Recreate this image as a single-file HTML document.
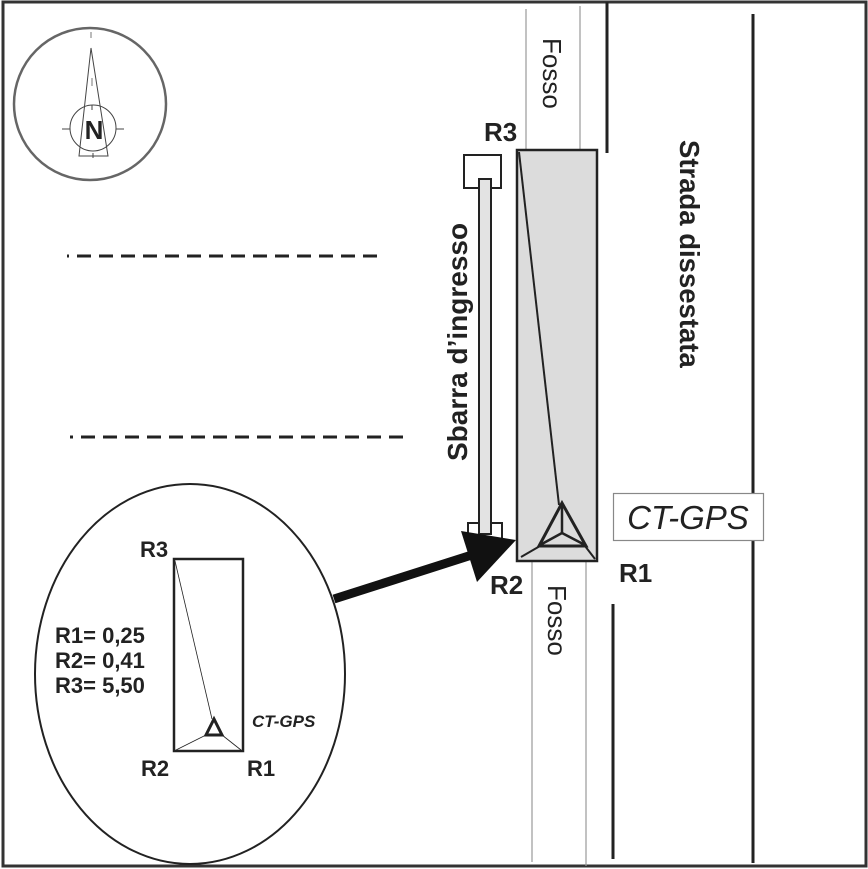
<!DOCTYPE html>
<html><head><meta charset="utf-8"><style>
html,body{margin:0;padding:0;background:#fff;}
svg{display:block;}
text{font-family:"Liberation Sans",Arial,sans-serif;}
</style></head><body>
<svg width="868" height="869" viewBox="0 0 868 869" xmlns="http://www.w3.org/2000/svg">
<rect x="0" y="0" width="868" height="869" fill="#fff"/>
<rect x="3" y="2" width="863" height="864" fill="none" stroke="#333" stroke-width="3"/>
<!-- compass -->
<circle cx="90" cy="104" r="76" fill="none" stroke="#666" stroke-width="2.5"/>
<circle cx="93" cy="128" r="23" fill="none" stroke="#444" stroke-width="1"/>
<polygon points="91,48 79,156 108,156" fill="none" stroke="#444" stroke-width="1"/>
<line x1="91" y1="32" x2="91" y2="38" stroke="#777" stroke-width="1"/>
<line x1="92" y1="78" x2="92" y2="86" stroke="#777" stroke-width="1"/>
<line x1="62" y1="129" x2="70" y2="129" stroke="#444" stroke-width="1"/>
<line x1="116" y1="129" x2="124" y2="129" stroke="#444" stroke-width="1"/>
<line x1="92" y1="105" x2="92" y2="110" stroke="#444" stroke-width="1"/>
<line x1="93" y1="153" x2="93" y2="158" stroke="#444" stroke-width="1"/>
<text x="94" y="139" font-size="26" font-weight="bold" text-anchor="middle" fill="#222">N</text>
<!-- dashed lines -->
<line x1="67" y1="256" x2="69" y2="256" stroke="#222" stroke-width="3"/>
<line x1="77" y1="256" x2="382" y2="256" stroke="#222" stroke-width="3" stroke-dasharray="14 8"/>
<line x1="70" y1="437" x2="73" y2="437" stroke="#222" stroke-width="3"/>
<line x1="81" y1="437" x2="406" y2="437" stroke="#222" stroke-width="3" stroke-dasharray="14 8"/>
<!-- fosso lines -->
<line x1="526" y1="9" x2="526" y2="150" stroke="#999" stroke-width="1.2"/>
<line x1="580" y1="6" x2="580" y2="150" stroke="#999" stroke-width="1.2"/>
<line x1="532" y1="561" x2="532" y2="862" stroke="#999" stroke-width="1.2"/>
<line x1="586" y1="561" x2="586" y2="866" stroke="#999" stroke-width="1.2"/>
<text transform="translate(543,38) rotate(90)" font-size="26" fill="#222">Fosso</text>
<text transform="translate(548,585) rotate(90)" font-size="26" fill="#222">Fosso</text>
<!-- road lines -->
<line x1="607" y1="2" x2="607" y2="153" stroke="#222" stroke-width="3"/>
<line x1="613" y1="604" x2="613" y2="859" stroke="#222" stroke-width="3"/>
<line x1="753" y1="14" x2="753" y2="863" stroke="#222" stroke-width="3"/>
<text transform="translate(680,140) rotate(90)" font-size="27.5" font-weight="bold" fill="#222">Strada dissestata</text>
<!-- bar -->
<rect x="464" y="155" width="37" height="33" fill="#fff" stroke="#222" stroke-width="2"/>
<rect x="468" y="523" width="34" height="18" fill="#fff" stroke="#222" stroke-width="2"/>
<rect x="479" y="179" width="12" height="355" fill="#e3e3e3" stroke="#222" stroke-width="2"/>
<text transform="translate(467,461) rotate(-90)" font-size="28" font-weight="bold" fill="#222">Sbarra d’ingresso</text>
<!-- grey rect -->
<rect x="517" y="150" width="80" height="411" fill="#dcdcdc" stroke="#222" stroke-width="2.5"/>
<line x1="519" y1="152" x2="559" y2="505" stroke="#222" stroke-width="2"/>
<polygon points="562,503 539,546 586,546" fill="none" stroke="#222" stroke-width="3"/>
<line x1="562" y1="503" x2="562" y2="533" stroke="#222" stroke-width="2.5"/>
<line x1="562" y1="533" x2="540" y2="545" stroke="#222" stroke-width="2.5"/>
<line x1="562" y1="533" x2="585" y2="545" stroke="#222" stroke-width="2.5"/>
<line x1="540" y1="546" x2="521" y2="557" stroke="#222" stroke-width="2"/>
<line x1="585" y1="546" x2="595" y2="559" stroke="#222" stroke-width="2"/>
<text x="484" y="141" font-size="26" font-weight="bold" fill="#222">R3</text>
<text x="490" y="594" font-size="26" font-weight="bold" fill="#222">R2</text>
<text x="619" y="582" font-size="26" font-weight="bold" fill="#222">R1</text>
<!-- CT-GPS box -->
<rect x="613.5" y="493.5" width="150" height="47" fill="#fff" stroke="#888" stroke-width="1.2"/>
<text x="688" y="529" font-size="33" font-style="italic" text-anchor="middle" fill="#222">CT-GPS</text>
<!-- arrow -->
<line x1="334" y1="599" x2="478" y2="553" stroke="#111" stroke-width="9"/>
<polygon points="516,540 461,531 477,582" fill="#111"/>
<!-- ellipse -->
<ellipse cx="190" cy="674" rx="155" ry="190" fill="none" stroke="#222" stroke-width="2"/>
<rect x="174" y="559" width="69" height="192" fill="none" stroke="#222" stroke-width="2.5"/>
<line x1="175" y1="561" x2="212" y2="719" stroke="#222" stroke-width="0.8"/>
<polygon points="214,719 206,735 222,735" fill="none" stroke="#222" stroke-width="3"/>
<line x1="206" y1="735" x2="176" y2="750" stroke="#222" stroke-width="0.8"/>
<line x1="222" y1="735" x2="241" y2="750" stroke="#222" stroke-width="0.8"/>
<text x="140" y="557" font-size="22" font-weight="bold" fill="#222">R3</text>
<text x="141" y="776" font-size="22" font-weight="bold" fill="#222">R2</text>
<text x="247" y="776" font-size="22" font-weight="bold" fill="#222">R1</text>
<text x="252" y="727" font-size="17" font-weight="bold" font-style="italic" fill="#222">CT-GPS</text>
<text x="55" y="643" font-size="22" font-weight="bold" fill="#222">R1= 0,25</text>
<text x="55" y="668" font-size="22" font-weight="bold" fill="#222">R2= 0,41</text>
<text x="55" y="693" font-size="22" font-weight="bold" fill="#222">R3= 5,50</text>
</svg>
</body></html>
